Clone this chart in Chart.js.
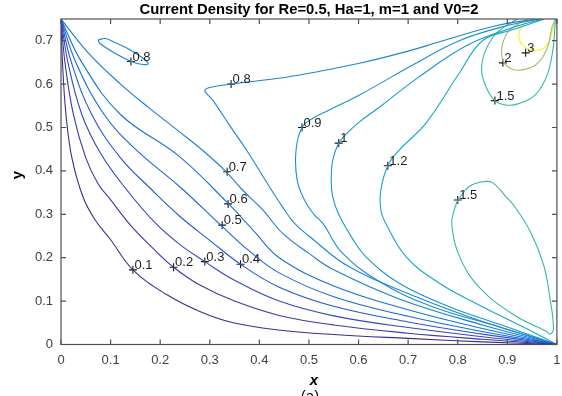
<!DOCTYPE html>
<html>
<head>
<meta charset="utf-8">
<script src="https://cdn.jsdelivr.net/npm/chart.js@4.4.0/dist/chart.umd.min.js"></script>
<style>
  html, body { margin: 0; padding: 0; background: #fff; }
</style>
</head>
<body>
<canvas id="myChart" width="562" height="396"></canvas>
<script>
// contour levels and their colours (parula)
const levels = [0.1, 0.2, 0.3, 0.4, 0.5, 0.6, 0.7, 0.8, 0.9, 1, 1.2, 1.5, 2, 3];
const levelColors = ["#38308e", "#3a3aa6", "#3447bc", "#2657d2", "#156adc", "#1474da", "#187dd8",
                     "#1c86d4", "#1a8fd0", "#1499cc", "#14a8c4", "#34b8a4", "#a3bd75", "#f4f418"];

// contour paths, [x, y]
const c01 = [[0,0.75],[0.003,0.65],[0.01,0.53],[0.022,0.43],[0.045,0.338],[0.07,0.285],[0.099,0.243],[0.145,0.172],[0.213,0.115],[0.28,0.076],[0.347,0.05],[0.443,0.033],[0.55,0.023],[0.7,0.014],[0.85,0.006],[1,0]];
const c02 = [[0,0.75],[0.008,0.65],[0.025,0.53],[0.05,0.43],[0.075,0.37],[0.099,0.335],[0.14,0.275],[0.185,0.222],[0.227,0.178],[0.28,0.137],[0.35,0.1],[0.44,0.067],[0.55,0.045],[0.7,0.026],[0.85,0.012],[1,0]];
const c03 = [[0,0.75],[0.014,0.65],[0.042,0.53],[0.08,0.44],[0.13,0.36],[0.19,0.28],[0.24,0.23],[0.29,0.191],[0.35,0.148],[0.44,0.1],[0.55,0.066],[0.7,0.039],[0.85,0.018],[1,0]];
const c04 = [[0,0.75],[0.021,0.65],[0.062,0.53],[0.12,0.43],[0.18,0.36],[0.24,0.295],[0.3,0.24],[0.362,0.185],[0.44,0.132],[0.55,0.088],[0.7,0.052],[0.85,0.024],[1,0]];
const c05 = [[0,0.75],[0.03,0.65],[0.087,0.53],[0.15,0.45],[0.239,0.364],[0.325,0.272],[0.38,0.215],[0.44,0.165],[0.55,0.11],[0.7,0.065],[0.85,0.03],[1,0]];
const c06 = [[0,0.75],[0.042,0.65],[0.12,0.53],[0.239,0.433],[0.337,0.325],[0.39,0.26],[0.44,0.2],[0.55,0.135],[0.7,0.08],[0.85,0.037],[1,0]];
const c07 = [[0,0.75],[0.055,0.672],[0.12,0.6],[0.18,0.543],[0.239,0.49],[0.29,0.443],[0.333,0.398],[0.366,0.356],[0.407,0.31],[0.447,0.256],[0.5,0.21],[0.55,0.172],[0.682,0.105],[0.85,0.045],[1,0]];
const c08 = [[0.96,0.75],[0.879,0.735],[0.77,0.7],[0.7,0.676],[0.602,0.648],[0.5,0.625],[0.443,0.614],[0.343,0.6],[0.3,0.592],[0.29,0.585],[0.306,0.563],[0.34,0.505],[0.374,0.448],[0.42,0.364],[0.445,0.32],[0.47,0.28],[0.5,0.25],[0.581,0.179],[0.716,0.11],[0.85,0.053],[1,0]];
const c08b = [[0.075,0.702],[0.09,0.705],[0.11,0.695],[0.145,0.675],[0.176,0.648],[0.165,0.645],[0.142,0.652],[0.109,0.671],[0.078,0.694],[0.075,0.702]];
const c09 = [[0.965,0.75],[0.9,0.735],[0.803,0.7],[0.711,0.645],[0.602,0.575],[0.54,0.54],[0.509,0.522],[0.486,0.5],[0.474,0.448],[0.476,0.38],[0.491,0.333],[0.51,0.3],[0.528,0.279],[0.568,0.21],[0.648,0.141],[0.749,0.087],[0.883,0.041],[1,0]];
const c10 = [[0.97,0.75],[0.91,0.73],[0.82,0.69],[0.72,0.615],[0.64,0.545],[0.602,0.513],[0.575,0.485],[0.56,0.464],[0.548,0.425],[0.545,0.379],[0.548,0.34],[0.56,0.3],[0.59,0.24],[0.615,0.202],[0.682,0.141],[0.783,0.087],[0.883,0.047],[1,0]];
const c12 = [[0.975,0.75],[0.91,0.725],[0.85,0.7],[0.803,0.625],[0.736,0.51],[0.682,0.448],[0.659,0.412],[0.645,0.356],[0.645,0.31],[0.655,0.279],[0.696,0.202],[0.763,0.141],[0.836,0.095],[0.883,0.068],[0.95,0.03],[1,0]];
const c15a = [[0.8,0.333],[0.823,0.364],[0.85,0.375],[0.87,0.373],[0.897,0.341],[0.912,0.322],[0.946,0.261],[0.973,0.184],[0.986,0.107],[0.993,0.038],[0.987,0.024],[0.979,0.03],[0.912,0.069],[0.845,0.13],[0.805,0.199],[0.788,0.276],[0.793,0.31],[0.8,0.333]];
const c15b = [[0.92,0.75],[0.88,0.72],[0.857,0.68],[0.848,0.635],[0.857,0.594],[0.875,0.562],[0.897,0.552],[0.923,0.555],[0.957,0.576],[0.98,0.62],[0.992,0.68],[0.997,0.75]];
const c20 = [[0.94,0.75],[0.905,0.725],[0.89,0.69],[0.891,0.655],[0.905,0.637],[0.923,0.632],[0.957,0.644],[0.98,0.682],[0.99,0.73],[0.997,0.75]];
const c30 = [[0.94,0.75],[0.923,0.713],[0.937,0.684],[0.967,0.679],[0.984,0.698],[0.992,0.73],[0.997,0.75]];

// which level each path belongs to
const paths = [c01, c02, c03, c04, c05, c06, c07, c08, c08b, c09, c10, c12, c15a, c15b, c20, c30];
const pathLevels = [0.1, 0.2, 0.3, 0.4, 0.5, 0.6, 0.7, 0.8, 0.8, 0.9, 1, 1.2, 1.5, 1.5, 2, 3];

// contour labels (clabel)
const labelText = ["0.1", "0.2", "0.3", "0.4", "0.5", "0.6", "0.7", "0.8", "0.8", "0.9", "1", "1.2", "1.5", "1.5", "2", "3"];
const labelX = [0.145, 0.227, 0.290, 0.362, 0.325, 0.337, 0.335, 0.141, 0.343, 0.486, 0.560, 0.659, 0.800, 0.875, 0.891, 0.937];
const labelY = [0.172, 0.178, 0.191, 0.185, 0.275, 0.324, 0.398, 0.652, 0.600, 0.500, 0.464, 0.412, 0.333, 0.562, 0.649, 0.672];

const xTicks = [0, 0.1, 0.2, 0.3, 0.4, 0.5, 0.6, 0.7, 0.8, 0.9, 1];
const yTicks = [0, 0.1, 0.2, 0.3, 0.4, 0.5, 0.6, 0.7];

const datasets = paths.map((p, i) => ({
    data: p.map(pt => ({ x: pt[0], y: pt[1] })),
    showLine: true,
    borderColor: levelColors[levels.indexOf(pathLevels[i])],
    borderWidth: 1.1,
    pointRadius: 0,
    tension: 0.4,
    fill: false
}));

datasets.push({
    data: labelX.map((x, i) => ({ x: x, y: labelY[i] })),
    showLine: false,
    pointStyle: "cross",
    pointRadius: 4,
    borderColor: "#1a1a1a",
    borderWidth: 1.1
});

// title, axis box, inward ticks, contour label text
const decorations = {
    id: "decorations",
    afterDatasetsDraw(chart) {
        const ctx = chart.ctx;
        const xs = chart.scales.x, ys = chart.scales.y;
        const a = chart.chartArea;
        ctx.save();
        ctx.fillStyle = "#1f1f1f";
        ctx.font = '13px "Liberation Sans", Arial, sans-serif';
        ctx.textBaseline = "bottom";
        ctx.textAlign = "left";
        labelText.forEach((t, i) => {
            ctx.fillText(t, xs.getPixelForValue(labelX[i]) + 1.5, ys.getPixelForValue(labelY[i]) + 2);
        });

        ctx.strokeStyle = "#505050";
        ctx.lineWidth = 1.2;
        ctx.strokeRect(a.left, a.top, a.right - a.left, a.bottom - a.top);
        ctx.beginPath();
        xTicks.forEach(v => {
            const px = xs.getPixelForValue(v);
            ctx.moveTo(px, a.bottom); ctx.lineTo(px, a.bottom - 5);
            ctx.moveTo(px, a.top); ctx.lineTo(px, a.top + 5);
        });
        yTicks.forEach(v => {
            const py = ys.getPixelForValue(v);
            ctx.moveTo(a.left, py); ctx.lineTo(a.left + 5, py);
            ctx.moveTo(a.right, py); ctx.lineTo(a.right - 5, py);
        });
        ctx.stroke();

        ctx.fillStyle = "#000";
        ctx.textAlign = "center";
        ctx.textBaseline = "alphabetic";
        ctx.font = 'bold 14.8px "Liberation Sans", Arial, sans-serif';
        ctx.fillText("Current Density for Re=0.5, Ha=1, m=1 and V0=2", (a.left + a.right) / 2, 14);

        ctx.font = 'italic bold 15px "Liberation Sans", Arial, sans-serif';
        ctx.fillText("x", 314, 385);
        ctx.font = '15px "Liberation Sans", Arial, sans-serif';
        ctx.fillText("(a)", 310, 401);

        ctx.translate(22, 175);
        ctx.rotate(-Math.PI / 2);
        ctx.font = 'bold 15px "Liberation Sans", Arial, sans-serif';
        ctx.fillText("y", 0, 0);
        ctx.restore();
    }
};

new Chart("myChart", {
    type: "scatter",
    data: { datasets: datasets },
    options: {
        responsive: false,
        animation: false,
        layout: { padding: { top: 19, right: 4, left: 0, bottom: 0 } },
        plugins: { legend: { display: false }, tooltip: { enabled: false } },
        scales: {
            x: {
                type: "linear", min: 0, max: 1,
                afterFit: s => { s.height = 51.5; s.paddingLeft = 0; s.paddingRight = 0; },
                afterBuildTicks: s => { s.ticks = xTicks.map(v => ({ value: v })); },
                grid: { display: false, drawTicks: false },
                border: { display: false },
                ticks: {
                    padding: 8, color: "#404040",
                    font: { family: '"Liberation Sans", Arial, sans-serif', size: 13 },
                    callback: v => String(+v.toFixed(1))
                }
            },
            y: {
                type: "linear", min: 0, max: 0.75,
                afterFit: s => { s.width = 61; s.paddingTop = 0; s.paddingBottom = 0; },
                afterBuildTicks: s => { s.ticks = yTicks.map(v => ({ value: v })); },
                grid: { display: false, drawTicks: false },
                border: { display: false },
                ticks: {
                    padding: 8, color: "#404040",
                    font: { family: '"Liberation Sans", Arial, sans-serif', size: 13 },
                    callback: v => String(+v.toFixed(1))
                }
            }
        }
    },
    plugins: [decorations]
});
</script>
</body>
</html>
